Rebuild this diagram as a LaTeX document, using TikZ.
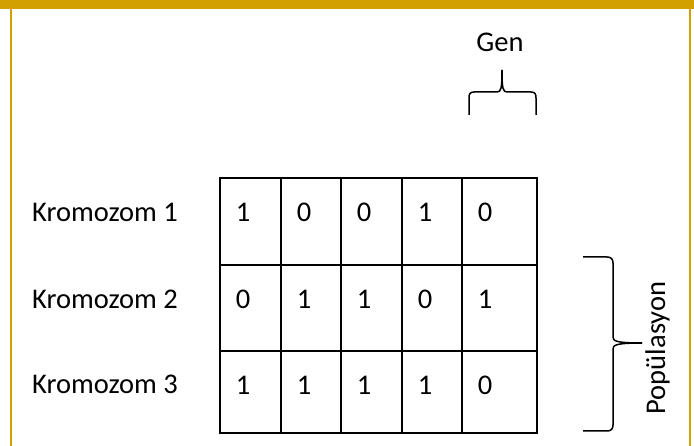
\documentclass[tikz,border=0pt]{standalone}
\usepackage{fontspec}
\setmainfont{Carlito}
\definecolor{gold}{RGB}{210,160,0}
\begin{document}
\begin{tikzpicture}[x=1pt,y=-1pt,
  txt/.style={font=\fontsize{28.5}{32}\selectfont, inner sep=0pt},
  cell/.style={draw=black, line width=1.6pt, anchor=north west, inner sep=0pt},
  brace/.style={draw=black, line width=1.5pt, line join=round}]
\useasboundingbox (0,0) rectangle (694,446);
% frame
\fill[gold] (0,0) rectangle (694,9);
\draw[gold, line width=1.2pt] (11,9) -- (11,446);
\draw[gold, line width=1.2pt] (690,9) -- (690,446);
% cells
\def\colx{{219,280,340,401,461,536}}
\def\rowy{{177,264,350,432}}
\foreach \r in {0,1,2}{
  \foreach \c in {0,...,4}{
    \pgfmathsetmacro\xa{\colx[\c]}
    \pgfmathsetmacro\xb{\colx[\c+1]}
    \pgfmathsetmacro\ya{\rowy[\r]}
    \pgfmathsetmacro\yb{\rowy[\r+1]}
    \node[cell, minimum width={(\xb-\xa)*1pt}, minimum height={(\yb-\ya)*1pt}] (c\r\c) at (\xa,\ya) {};
  }
}
% digits
\newcommand\dig[3]{\node[txt, anchor=base] (d#1#2) at ([xshift=24pt,yshift=-45pt]c#1#2.north west) {#3};}
\dig{0}{0}{1}\dig{0}{1}{0}\dig{0}{2}{0}\dig{0}{3}{1}\dig{0}{4}{0}
\dig{1}{0}{0}\dig{1}{1}{1}\dig{1}{2}{1}\dig{1}{3}{0}\dig{1}{4}{1}
\dig{2}{0}{1}\dig{2}{1}{1}\dig{2}{2}{1}\dig{2}{3}{1}\dig{2}{4}{0}
% row labels
\node[txt, anchor=base west] (k1) at (32,222) {Kromozom 1};
\node[txt, anchor=base west] (k2) at (32,309) {Kromozom 2};
\node[txt, anchor=base west] (k3) at (32,394) {Kromozom 3};
% Gen brace
\node[txt, anchor=base] (gen) at (500,52) {Gen};
\draw[brace] (469,115) -- (469,98) .. controls (469,94) and (470,92) .. (474,92)
  -- (497,92) .. controls (501,92) and (502,89) .. (502,70);
\draw[brace] (502,70) .. controls (502,89) and (503,92) .. (507,92)
  -- (531,92) .. controls (535,92) and (536,94) .. (536,98) -- (536,115);
% Populasyon brace
\draw[brace] (583,257) -- (607,257) .. controls (611,257) and (613,259) .. (613,263)
  -- (613,337) .. controls (613,341) and (616,343) .. (642,343);
\draw[brace] (642,343) .. controls (616,343) and (613,345) .. (613,349)
  -- (613,425) .. controls (613,429) and (611,431) .. (607,431) -- (583,431);
\node[txt, anchor=base, rotate=90] (pop) at (665,348) {Popülasyon};
\end{tikzpicture}
\end{document}
